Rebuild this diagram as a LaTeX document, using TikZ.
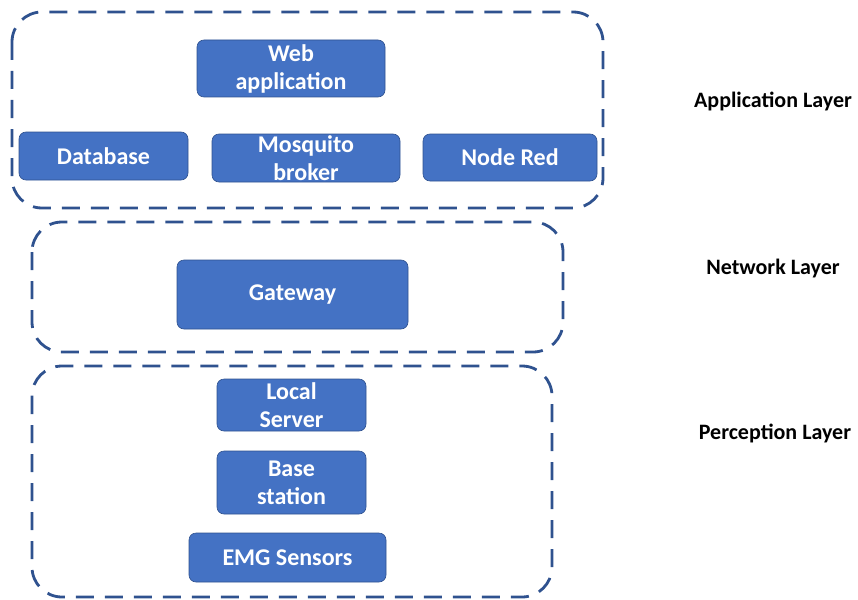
\documentclass[tikz,border=0pt]{standalone}
\usepackage{fontspec}
\setmainfont{Carlito}
\definecolor{boxblue}{HTML}{4472C4}
\definecolor{edgeblue}{HTML}{2F528F}
\definecolor{dashblue}{HTML}{2F528F}
\begin{document}
\begin{tikzpicture}[x=1pt,y=-1pt,
  layerbox/.style={draw=dashblue, line width=2.8pt, dash pattern=on 18pt off 11pt, rounded corners=30pt},
  bluebox/.style={draw=edgeblue, line width=0.6pt, fill=boxblue, rounded corners=7pt, text=white,
     font=\fontsize{24}{28}\selectfont\bfseries, align=center, inner sep=0pt},
  layerlabel/.style={font=\fontsize{22}{24}\selectfont\bfseries, text=black}]
\useasboundingbox (0,0) rectangle (858,599);
% layer outlines
\draw[layerbox] (12,12) rectangle (603,208);
\draw[layerbox] (32,222) rectangle (563,352);
\draw[layerbox] (32,366) rectangle (552,597);
% application layer
\node[bluebox, minimum width=188pt, minimum height=57pt] (web) at (291,68.5) {Web\\application};
\node[bluebox, minimum width=169pt, minimum height=48pt] (db) at (103.5,156) {Database};
\node[bluebox, minimum width=188pt, minimum height=48pt] (mq) at (306,158) {Mosquito\\broker};
\node[bluebox, minimum width=174pt, minimum height=47pt] (nr) at (510,157.5) {Node Red};
% network layer
\node[bluebox, minimum width=231pt, minimum height=69pt] (gw) at (292.5,294.5) {Gateway};
% perception layer
\node[bluebox, minimum width=149pt, minimum height=52pt] (ls) at (291.5,405) {Local\\Server};
\node[bluebox, minimum width=149pt, minimum height=63pt] (bs) at (291.5,482.5) {Base\\station};
\node[bluebox, minimum width=197pt, minimum height=49pt] (emg) at (287.5,557.5) {EMG Sensors};
% labels
\node[layerlabel] (la) at (773,101) {Application Layer};
\node[layerlabel] (ln) at (773,269) {Network Layer};
\node[layerlabel] (lp) at (775,433) {Perception Layer};
\end{tikzpicture}
\end{document}
